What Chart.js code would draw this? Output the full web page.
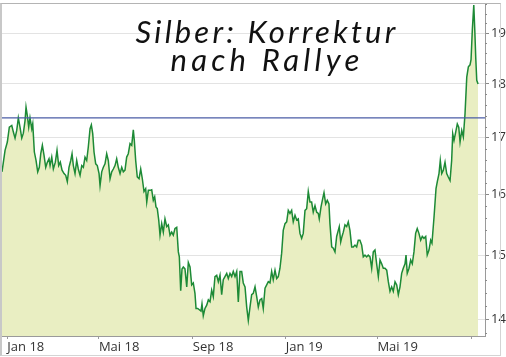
<!DOCTYPE html>
<html><head><meta charset="utf-8">
<script src="https://cdn.jsdelivr.net/npm/chart.js@4/dist/chart.umd.min.js"></script>
<style>
html,body{margin:0;padding:0;background:#fff;}
#wrap{position:relative;width:506px;height:357px;overflow:hidden;background:#fff;}
#c{position:absolute;left:0;top:0;}
#frame{position:absolute;left:0;top:3px;width:498px;height:351px;border-left:2px solid #c8c8c8;border-top:1px solid #b4b4b4;border-right:1px solid #d4d4d4;border-bottom:1px solid #d4d4d4;pointer-events:none;}
.t{position:absolute;left:0;width:534px;text-align:center;font-family:Lato,'Open Sans',sans-serif;font-style:italic;font-weight:400;font-size:31px;line-height:30px;color:#111;white-space:nowrap;}
</style></head><body>
<div id="wrap"><canvas id="c" width="506" height="357"></canvas><div id="frame"></div>
<div class="t" id="t1" style="top:16px">Silber: Korrektur</div>
<div class="t" id="t2" style="top:44px">nach Rallye</div>
</div>
<script>
// Days since 1 Jan 2018
const days = [
-7,-3.0,0,2.6,5.8,7.9,10.1,12.3,14.4,16.6,18.9,21.0,23.2,24.5,26.2,28.0,29.7,32.0,33.3,35.4,37.6,39.8,41.9,43.8,45.9,48.1,50.3,52.4,54.6,56.0,58.2,60.3,62.9,65.1,67.3,69.4,71.7,74.3,76.5,78.6,80.8,83.1,84.8,86.5,88.7,90.9,93.0,95.3,97.5,99.6,101.8,104.0,106.1,108.4,110.1,111.9,113.6,115.8,117.9,120.2,121.5,123.7,125.8,128.0,130.2,132.3,134.6,136.8,138.9,141.1,143.3,145.4,
147.7,149.9,152.0,154.2,156.4,158.5,160.8,163.0,165.1,166.4,168.2,170.3,172.6,174.8,176.9,179.1,181.3,182.7,184.8,187.0,189.2,191.3,193.1,194.8,196.5,198.4,200.1,202.3,204.4,206.6,208.9,211.0,213.2,215.4,217.5,219.7,222.0,224.1,225.4,227.2,228.9,230.6,232.8,235.1,237.2,239.4,241.6,243.7,245.9,247.3,249.5,251.6,253.8,255.1,256.8,259.0,261.3,263.4,265.6,267.8,269.9,272.1,274.4,276.5,278.7,280.9,283.0,285.2,287.5,289.6,291.8,294.0,296.1,298.4,300.6,302.7,
304.9,307.1,309.2,311.5,313.7,315.8,318.0,320.2,322.3,324.6,326.8,328.9,331.1,333.4,335.4,337.7,339.9,342.0,344.2,346.4,348.5,350.8,353.0,355.1,357.3,359.5,361.6,363.9,366.1,368.2,370.4,372.6,374.7,377.0,379.2,381.3,383.5,385.7,387.8,390.1,392.3,394.4,396.6,398.8,400.9,403.2,405.4,407.5,408.8,411.1,413.3,415.0,417.2,419.3,421.5,422.8,425.1,427.2,429.4,431.6,433.7,435.0,436.9,438.6,440.3,442.5,444.7,446.8,449.0,451.3,453.4,455.6,457.8,459.9,
462.1,464.4,466.5,468.7,470.9,473.0,475.3,477.5,479.6,481.8,484.0,486.2,488.4,490.6,492.7,494.9,497.2,499.3,501.5,503.7,505.8,508.1,510.3,512.4,514.6,516.8,518.9,521.2,522.5,524.1,526.4,528.6,530.7,532.9,535.1,537.2,539.4,541.7,543.8,546.0,548.3,550.3,552.6,554.8,556.5,559.2,561.8,563.5,565.7,567.4,569.3,571.4,573.6,575.8,577.9,580.2,582.3,583.7,585.4,587.6,589.7,591.6,593.3,595.5,597.6,599.8,602.1,604.2,606.4,607.7,609.4,611.3,612.6,613.9,615.2,616.9
];
// Silver price, USD/oz
const silver = [
16.39,16.77,16.92,17.19,17.22,17.10,16.99,17.13,17.36,17.19,16.99,17.08,17.31,17.56,17.40,17.19,17.36,17.16,17.25,16.74,16.59,16.39,16.47,16.71,16.86,16.68,16.47,16.56,16.62,16.50,16.65,16.44,16.56,16.77,16.50,16.56,16.42,16.36,16.33,16.22,16.47,16.59,16.71,16.50,16.36,16.59,16.44,16.33,16.50,16.47,16.65,16.59,16.83,17.16,17.23,17.07,16.74,16.53,16.50,16.36,16.15,16.39,16.47,16.53,16.71,16.59,16.27,16.39,16.44,16.50,16.62,16.47,
16.36,16.47,16.39,16.42,16.65,16.71,16.89,16.86,17.14,16.95,16.59,16.30,16.27,16.44,16.27,16.05,16.10,15.87,16.07,16.07,16.08,15.90,15.96,15.79,15.76,15.57,15.32,15.51,15.37,15.59,15.46,15.49,15.32,15.37,15.32,15.43,15.45,15.05,14.97,14.44,14.78,14.81,14.78,14.50,14.88,14.81,14.53,14.56,14.40,14.17,14.17,14.15,14.13,14.24,14.06,14.17,14.22,14.30,14.27,14.45,14.35,14.66,14.68,14.58,14.68,14.38,14.61,14.66,14.71,14.63,14.71,14.66,14.74,14.66,14.74,14.27,
14.74,14.74,14.56,14.50,14.19,13.99,14.19,14.38,14.40,14.50,14.35,14.19,14.30,14.32,14.17,14.48,14.53,14.58,14.56,14.74,14.61,14.76,14.63,14.66,14.79,15.03,15.40,15.51,15.54,15.73,15.68,15.73,15.54,15.65,15.57,15.59,15.35,15.27,15.35,15.73,15.76,16.05,15.87,15.87,15.70,15.81,15.70,15.68,15.59,15.79,15.93,16.03,15.84,15.90,15.84,15.51,15.13,15.11,15.05,15.30,15.40,15.46,15.21,15.30,15.37,15.49,15.46,15.54,15.40,15.13,15.13,15.16,15.13,15.24,
15.24,15.16,14.97,15.00,14.97,15.00,14.97,14.79,15.05,15.08,14.86,14.66,14.92,14.86,14.79,14.79,14.76,14.58,14.43,14.50,14.43,14.58,14.53,14.38,14.50,14.71,14.79,14.86,15.00,14.71,14.79,14.92,14.86,15.05,15.35,15.43,15.35,15.24,15.30,15.27,15.30,15.00,15.08,15.24,15.19,15.62,16.10,16.22,16.36,16.59,16.36,16.42,16.56,16.36,16.30,16.24,16.59,17.07,16.95,17.10,17.25,17.19,16.92,17.13,17.01,17.43,18.13,18.33,18.37,18.47,19.07,19.58,19.07,18.50,18.07,18.00
];
const refLevel = 17.36;
const tickDays = [0, 120, 243, 365, 485, 608];
const tickLabels = ['Jan 18', 'Mai 18', 'Sep 18', 'Jan 19', 'Mai 19', ''];
const yTicks = [14, 15, 16, 17, 18, 19];
const xMin = -7, xMax = 626;
const yMin = 13.76, yMax = 19.6;

// fit title widths
(function(){
  const cv = document.createElement('canvas').getContext('2d');
  [['t1',263],['t2',193]].forEach(([id,target])=>{
    const el = document.getElementById(id);
    const cs = getComputedStyle(el);
    cv.font = cs.fontStyle+' '+cs.fontWeight+' '+cs.fontSize+' '+cs.fontFamily;
    const w = cv.measureText(el.textContent).width;
    const n = el.textContent.length;
    el.style.letterSpacing = ((target - w)/n).toFixed(2)+'px';
  });
})();

const minorTicks = {
  id:'minorTicks',
  afterDraw(chart){
    const s = chart.scales.y, ctx = chart.ctx;
    ctx.save();
    ctx.strokeStyle = '#8a8a8a'; ctx.lineWidth = 1;
    ctx.beginPath();
    for (let k = 69; k <= 98; k++) {
      if (k % 5 === 0) continue;
      const v = k/5;
      if (v < yMin || v > yMax) continue;
      const y = Math.round(s.getPixelForValue(v)) + 0.5;
      ctx.moveTo(s.left, y); ctx.lineTo(s.left + 2, y);
    }
    ctx.stroke();
    ctx.restore();
  }
};

new Chart(document.getElementById('c'), {
  type: 'line',
  data: { datasets: [
    { data: [{x:xMin, y:refLevel},{x:xMax, y:refLevel}], order:0, borderColor:'#4a5ca6', borderWidth:1.2, pointRadius:0, fill:false },
    { data: days.map((d,i)=>({x:d, y:silver[i]})), order:1, borderColor:'#1d8a36', borderWidth:1.5, backgroundColor:'#e9eec2', fill:'start', pointRadius:0, tension:0 }
  ]},
  options: {
    responsive:false, animation:false, devicePixelRatio:1,
    layout:{ padding:{ left:2, top:4, right:0, bottom:0 } },
    plugins:{ legend:{display:false}, tooltip:{enabled:false} },
    scales:{
      x:{ type:'linear', min:xMin, max:xMax,
        afterBuildTicks: s => { s.ticks = tickDays.map(v=>({value:v})); },
        afterFit: s => { s.height = 21; s.paddingLeft = 0; s.paddingRight = 0; },
        ticks:{ autoSkip:false, maxRotation:0, minRotation:0, align:'start', padding:0, color:'#333',
          font:{ family:'Open Sans', size:13 }, callback:(v,i)=>tickLabels[i] },
        grid:{ drawOnChartArea:false, drawTicks:true, tickLength:3, color:'#9a9a9a' },
        border:{ color:'#9a9a9a' } },
      y:{ type:'logarithmic', position:'right', min:yMin, max:yMax,
        afterBuildTicks: s => { s.ticks = yTicks.map(v=>({value:v})); },
        afterFit: s => { s.width = 21; s.paddingTop = 0; s.paddingBottom = 0; },
        ticks:{ padding:2, color:'#333', font:{ family:'Open Sans', size:13 }, callback:v=>String(v) },
        grid:{ color:'#e3e3e3', tickColor:'#8a8a8a', tickLength:4 },
        border:{ color:'#9a9a9a' } }
    }
  },
  plugins:[minorTicks]
});
</script>
</body></html>
